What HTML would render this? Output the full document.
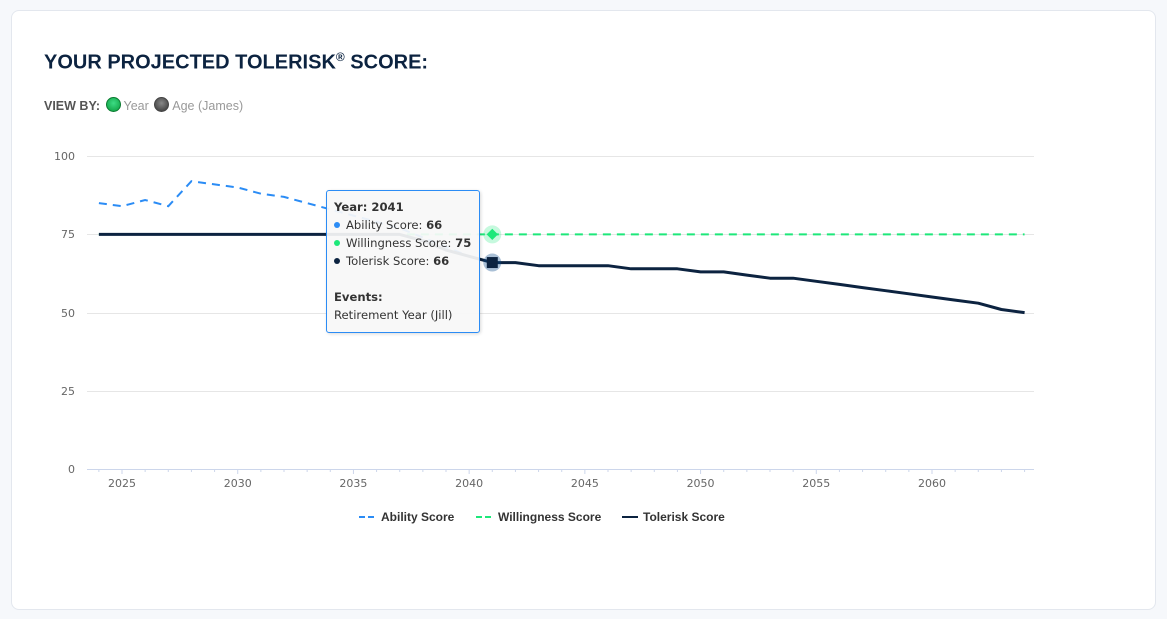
<!DOCTYPE html>
<html><head><meta charset="utf-8"><style>
body{margin:0;width:1167px;height:619px;background:#f6f8fb;font-family:"Liberation Sans",sans-serif;overflow:hidden}
.card{position:absolute;left:11px;top:10px;width:1143px;height:598px;background:#fff;border:1px solid #e3e7ee;border-radius:8px}
h1{position:absolute;left:44px;top:50px;margin:0;font-size:20px;font-weight:bold;color:#0c2340;letter-spacing:0px}
h1 sup{font-size:12px}
.vb{position:absolute;left:44px;top:97px;font-size:12.5px;color:#999;}
.vb b{color:#555}
.dot{display:inline-block;width:13px;height:13px;border-radius:50%;vertical-align:-2px;margin:0 3px 0 2px}
.tip{position:absolute;left:326px;top:190px;width:152px;height:141px;background:rgba(247,247,247,0.93);border:1px solid #2b8cf5;border-radius:3px;font-family:"DejaVu Sans",sans-serif;font-size:11.6px;color:#333;box-shadow:1px 1px 3px rgba(0,0,0,.15)}
.tip div{position:absolute;left:7px;white-space:nowrap}
.tip span.d{display:inline-block;width:6px;height:6px;border-radius:50%;margin-right:6px;vertical-align:1px}
</style></head><body>
<div class="card"></div>
<h1>YOUR PROJECTED TOLERISK<sup>®</sup> SCORE:</h1>
<div class="vb"><b>VIEW BY:</b> <span class="dot" style="background:radial-gradient(circle at 50% 40%,#3ddc84,#0a9a3c);border:1px solid #0a7a30"></span>Year <span class="dot" style="background:radial-gradient(circle at 50% 40%,#888,#333);border:1px solid #444"></span>Age (James)</div>
<svg width="1167" height="619" style="position:absolute;left:0;top:0" font-family="DejaVu Sans,sans-serif">
<g stroke="#e6e6e6" stroke-width="1">
<line x1="87" x2="1034" y1="156.5" y2="156.5"/><line x1="87" x2="1034" y1="234.5" y2="234.5"/><line x1="87" x2="1034" y1="313.5" y2="313.5"/><line x1="87" x2="1034" y1="391.5" y2="391.5"/>
</g>
<line x1="87" x2="1034" y1="469.5" y2="469.5" stroke="#ccd6eb"/>
<g font-size="11" fill="#666" text-anchor="end">
<text x="75" y="160">100</text><text x="75" y="238">75</text><text x="75" y="317">50</text><text x="75" y="395">25</text><text x="75" y="473">0</text>
</g>
<g id="xt" font-size="11" fill="#666" text-anchor="middle"></g>
<g id="ser"></g>
<g font-size="12" font-weight="bold" fill="#333" font-family="Liberation Sans,sans-serif">
<line x1="359" x2="375" y1="517" y2="517" stroke="#2b8cf5" stroke-width="2" stroke-dasharray="6,3"/><text x="381" y="521">Ability Score</text>
<line x1="476" x2="492" y1="517" y2="517" stroke="#1de87a" stroke-width="2" stroke-dasharray="6,3"/><text x="498" y="521">Willingness Score</text>
<line x1="622" x2="638" y1="517" y2="517" stroke="#0c2340" stroke-width="2"/><text x="643" y="521">Tolerisk Score</text>
</g>
</svg>
<div class="tip">
<div style="top:9px;font-weight:bold">Year: 2041</div>
<div style="top:27px"><span class="d" style="background:#2b8cf5"></span>Ability Score: <b>66</b></div>
<div style="top:45px"><span class="d" style="background:#1de87a"></span>Willingness Score: <b>75</b></div>
<div style="top:63px"><span class="d" style="background:#0c2340"></span>Tolerisk Score: <b>66</b></div>
<div style="top:99px;font-weight:bold">Events:</div>
<div style="top:117px">Retirement Year (Jill)</div>
</div>
<script>
const X=y=>122+(y-2025)*23.143, Y=v=>469-v*3.128;
let xt='';for(let y=2025;y<=2060;y+=5)xt+=`<text x="${X(y)}" y="487">${y}</text>`;
for(let y=2024;y<=2064;y++)xt+=`<line x1="${X(y)}" x2="${X(y)}" y1="469" y2="${(y%5==0)?474:472}" stroke="#ccd6eb"/>`;
document.getElementById('xt').innerHTML=xt;
const ab=[85,84,86,84,92,91,90,88,87,85,83,81,79,77,74,71,68,66];
const tol=[75,75,75,75,75,75,75,75,75,75,75,75,75,75,73,70,68,66,66,65,65,65,65,64,64,64,63,63,62,61,61,60,59,58,57,56,55,54,53,51,50];
const pts=(a,s)=>a.map((v,i)=>X(2024+s+i).toFixed(1)+','+Y(v).toFixed(1)).join(' ');
let s='';
s+=`<polyline points="${pts(ab,0)}" fill="none" stroke="#2b8cf5" stroke-width="2" stroke-dasharray="8,6"/>`;
s+=`<line x1="${X(2024)}" x2="${X(2064)}" y1="${Y(75)}" y2="${Y(75)}" stroke="#1de87a" stroke-width="2" stroke-dasharray="8,6"/>`;
s+=`<polyline points="${pts(tol,0)}" fill="none" stroke="#0c2340" stroke-width="3" stroke-linejoin="round"/>`;
s+=`<circle cx="${X(2041)}" cy="${Y(75)}" r="9" fill="#1de87a" opacity=".25"/><rect x="${X(2041)-4}" y="${Y(75)-4}" width="8" height="8" fill="#1de87a" transform="rotate(45 ${X(2041)} ${Y(75)})"/>`;
s+=`<circle cx="${X(2041)}" cy="${Y(66)}" r="9" fill="#0c4a8a" opacity=".35"/><rect x="${X(2041)-5.5}" y="${Y(66)-5.5}" width="11" height="11" fill="#0c2340"/>`;
document.getElementById('ser').innerHTML=s;
</script>
</body></html>
